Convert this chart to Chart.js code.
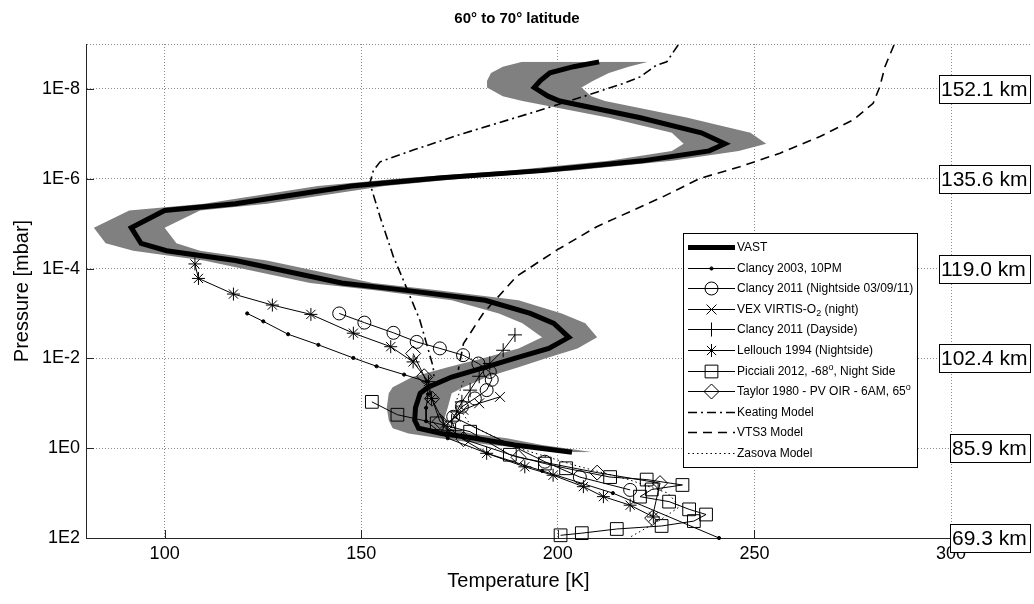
<!DOCTYPE html>
<html><head><meta charset="utf-8">
<script src="https://cdn.jsdelivr.net/npm/chart.js@4.4.1/dist/chart.umd.min.js"></script>
<style>html,body{margin:0;padding:0;background:#fff;}</style>
</head><body>
<canvas id="c" width="1034" height="604"></canvas>
<script>
const FONT = "'Liberation Sans', Arial, Helvetica, sans-serif";

// ---------- axis ticks ----------
const xTickValues = [100, 150, 200, 250, 300];
const yTickValues = [1e-9, 1e-8, 1e-6, 1e-4, 1e-2, 1, 100];
const yTickLabels = ['', '1E-8', '1E-6', '1E-4', '1E-2', '1E0', '1E2'];
const altitudeLabels = ['152.1 km', '135.6 km', '119.0 km', '102.4 km', '85.9 km', '69.3 km'];
const altitudePressures = [1e-8, 1e-6, 1e-4, 1e-2, 1, 100];

// ---------- VAST mean profile and its spread ----------
const vastP = [2.5e-9, 3.2e-9, 4.4e-9, 6.6e-9, 9.3e-9, 1.45e-8, 1.86e-8, 4.4e-8, 9.5e-8, 1.66e-7, 2.4e-7, 4.0e-7, 6.6e-7, 9.5e-7, 1.45e-6, 3.6e-6, 5.1e-6, 1.23e-5, 2.75e-5, 4.0e-5, 6.6e-5, 2.1e-4, 3.1e-4, 5.1e-4, 1.0e-3, 1.66e-3, 3.4e-3, 6.0e-3, 1.0e-2, 1.58e-2, 2.6e-2, 4.4e-2, 6.0e-2, 0.126, 0.24, 0.36, 0.47, 0.60, 0.85, 1.23];
const vastT = [210.5, 204, 198, 195.5, 194, 197.5, 200.5, 221, 236.5, 242.5, 238.5, 221.5, 196, 170.5, 147.5, 118, 100, 91.5, 94, 100.5, 118, 145, 162, 181.5, 193, 199, 202.8, 197.7, 189, 181.4, 173, 167, 165, 163.8, 163.6, 164.6, 170.5, 178.9, 189, 203.6];
const vastMinT = [191, 186, 183, 182, 182, 186, 191, 213, 229, 232, 229, 213, 188, 162, 139, 110, 91, 82, 85, 92, 110, 137, 154, 173, 185, 191, 196, 190, 181, 172, 163, 158, 157, 156.5, 157, 158, 162, 170, 183, 202];
const vastMaxT = [223, 218, 213, 209, 206, 208.5, 212, 233, 249, 253, 246, 229, 204, 178, 156, 126, 109, 100, 103, 109, 126, 153, 170, 190, 201, 207, 210, 205, 197, 190, 182, 176, 173, 172, 171, 172, 178, 187, 196, 209];

// ---------- observations ----------
const clancy2003P = [1.0e-3, 1.5e-3, 2.9e-3, 5.0e-3, 9.8e-3, 1.5e-2, 2.3e-2, 3.3e-2, 6.3e-2, 0.126, 0.25, 0.6, 1.3, 3.2, 10, 100];
const clancy2003T = [121.0, 125.1, 131.4, 139.1, 148, 153.9, 160.9, 166.6, 167, 166.5, 166.5, 172, 182, 196, 214, 241];

const clancyNightP = [1.0e-3, 1.6e-3, 2.7e-3, 4.3e-3, 6.0e-3, 8.5e-3, 1.3e-2, 2.0e-2, 3.0e-2, 5.1e-2, 7.8e-2, 0.12, 0.2, 2.0, 4.4, 8.5];
const clancyNightT = [144.4, 150.8, 158.2, 164.1, 170, 175.9, 179.8, 182.7, 183.2, 181.9, 178.9, 175.6, 173.4, 196.7, 205.6, 218.4];

const vexP = [7.2e-2, 0.1, 0.14, 0.2, 0.28];
const vexT = [185.3, 180, 176, 174, 172];

const clancyDayP = [3.0e-3, 6.6e-3, 1.3e-2, 2.5e-2, 5.1e-2, 9.3e-2, 0.155, 0.25, 0.4];
const clancyDayT = [189.1, 186.1, 182.7, 180, 177.7, 175.6, 174.3, 173, 174];

const lellouchP = [7.9e-5, 1.66e-4, 3.7e-4, 6.5e-4, 1.05e-3, 2.75e-3, 5.5e-3, 1.2e-2, 3.3e-2, 7.8e-2, 0.4, 1.3, 2.6, 4.0, 7.2, 12, 18.6, 34];
const lellouchT = [107.7, 108.6, 117.5, 127.4, 137.2, 148, 157.5, 163.2, 167.1, 167.9, 172, 181.9, 191.6, 198.8, 206.5, 211.6, 218.4, 224.3];

const piccialiP = [9.3e-2, 0.18, 0.28, 0.43, 1.4, 2.2, 2.8, 4.4, 5.0, 6.6, 8.3, 12, 15.5, 23, 30, 42, 54, 63, 78, 87];
const piccialiT = [152.7, 159.2, 169.2, 177.7, 187.8, 196.7, 202.1, 213.3, 222.6, 231.7, 223.9, 220.9, 228.3, 233.4, 237.7, 234.6, 226.4, 215, 206.1, 200.7];

const taylorP = [7.8e-3, 2.5e-2, 7.9e-2, 0.25, 0.63, 1.6, 3.5, 6.0, 36];
const taylorT = [163.2, 166, 168, 170, 176, 190, 210, 226, 224];

const keatingP = [1.05e-9, 2.5e-9, 2.95e-9, 5.4e-9, 7.6e-9, 1.48e-8, 3.5e-8, 9.8e-8, 2.3e-7, 4.2e-7, 6.5e-7, 1.26e-6, 7.1e-6, 5.5e-5, 1.8e-4, 1.4e-3, 1.55e-2, 2.5e-2];
const keatingT = [230.6, 227.7, 225.1, 220.9, 216.6, 206.5, 192.9, 176, 163.2, 154.8, 153.1, 152.2, 154.8, 158.2, 160.7, 164.9, 168.3, 168.5];

const vts3P = [1.05e-9, 3.2e-9, 8.9e-9, 2.1e-8, 4.9e-8, 1.15e-7, 2.7e-7, 5.4e-7, 9.8e-7, 2.5e-6, 1.17e-5, 3.9e-5, 1.5e-4, 1.0e-3, 4.7e-3, 1.8e-2];
const vts3T = [285.5, 283.2, 281.9, 280.2, 275.1, 266.7, 256.5, 246.3, 236.2, 226.8, 209.9, 199.7, 189.5, 181, 176, 174.7];

const zasovaP = [3.2e-2, 0.1, 0.32, 1.0, 2.5, 5.0, 10, 20, 40, 100];
const zasovaT = [176, 174, 178, 190, 205, 218, 228, 231, 226, 218];

// ---------- helpers ----------
const pts = (T, P) => T.map((t, i) => ({x: t, y: P[i]}));

const seriesDefs = [
  {label: 'VAST', T: vastT, P: vastP, width: 5, dash: [], style: false},
  {label: 'Clancy 2003, 10PM', T: clancy2003T, P: clancy2003P, width: 1, dash: [], style: 'circle', r: 1.6, fill: '#000'},
  {label: 'Clancy 2011 (Nightside 03/09/11)', T: clancyNightT, P: clancyNightP, width: 1, dash: [], style: 'circle', r: 6.5},
  {label: 'VEX VIRTIS-O2 (night)', T: vexT, P: vexP, width: 1, dash: [], style: 'crossRot', r: 7},
  {label: 'Clancy 2011 (Dayside)', T: clancyDayT, P: clancyDayP, width: 1, dash: [], style: 'cross', r: 7},
  {label: 'Lellouch 1994 (Nightside)', T: lellouchT, P: lellouchP, width: 1, dash: [], style: 'star', r: 6.5},
  {label: 'Picciali 2012, -68o, Night Side', T: piccialiT, P: piccialiP, width: 1, dash: [], style: 'rect', r: 9},
  {label: 'Taylor 1980 - PV OIR - 6AM, 65o', T: taylorT, P: taylorP, width: 1, dash: [], style: 'rectRot', r: 7.5},
  {label: 'Keating Model', T: keatingT, P: keatingP, width: 1.6, dash: [9, 4, 2, 4], style: false},
  {label: 'VTS3 Model', T: vts3T, P: vts3P, width: 1.6, dash: [9, 6], style: false},
  {label: 'Zasova Model', T: zasovaT, P: zasovaP, width: 1, dash: [1.5, 3], style: false}
];

const datasets = [];
// spread band: lower bound then upper bound, filled between (vertical profiles)
datasets.push({label: 'band-min', data: pts(vastMinT, vastP), indexAxis: 'y', borderWidth: 0, pointRadius: 0,
  backgroundColor: '#808080', borderColor: 'rgba(0,0,0,0)', fill: '+1', order: 100});
datasets.push({label: 'band-max', data: pts(vastMaxT, vastP), indexAxis: 'y', borderWidth: 0, pointRadius: 0,
  borderColor: 'rgba(0,0,0,0)', fill: false, order: 99});
seriesDefs.forEach((s, i) => {
  datasets.push({
    label: s.label, data: pts(s.T, s.P), borderColor: '#000', borderWidth: s.width, borderDash: s.dash,
    pointStyle: s.style || 'circle', pointRadius: s.style ? s.r : 0, pointBorderWidth: 1,
    pointBorderColor: '#000', pointBackgroundColor: s.fill || 'rgba(0,0,0,0)', pointHoverRadius: s.style ? s.r : 0,
    fill: false, tension: 0, order: i === 0 ? 50 : 1, clip: false
  });
});

// ---------- decorations plugin (inward ticks, altitude boxes, legend) ----------
const deco = {
  id: 'deco',
  afterDraw(chart) {
    const {ctx, chartArea: a, scales: {x, y}} = chart;
    ctx.save();
    // inward tick marks
    ctx.strokeStyle = '#262626'; ctx.lineWidth = 1; ctx.setLineDash([]);
    xTickValues.forEach(v => { const px = Math.round(x.getPixelForValue(v)) + 0.5;
      ctx.beginPath(); ctx.moveTo(px, a.bottom); ctx.lineTo(px, a.bottom - 8); ctx.stroke(); });
    yTickValues.slice(1).forEach(v => { const py = Math.round(y.getPixelForValue(v)) + 0.5;
      ctx.beginPath(); ctx.moveTo(a.left, py); ctx.lineTo(a.left + 8, py); ctx.stroke(); });
    // top dotted line continues to the right axis
    ctx.strokeStyle = '#8c8c8c'; ctx.setLineDash([1, 2]);
    ctx.beginPath(); ctx.moveTo(a.right, a.top + 0.5); ctx.lineTo(1030, a.top + 0.5); ctx.stroke();
    ctx.setLineDash([]);
    // altitude boxes
    ctx.font = '21px ' + FONT; ctx.textBaseline = 'middle';
    altitudeLabels.forEach((lab, i) => {
      const py = Math.round(y.getPixelForValue(altitudePressures[i]));
      const left = i >= 4 ? 950 : 939;
      const w = 1030 - left, h = 28;
      ctx.fillStyle = '#fff'; ctx.fillRect(left, py - h / 2, w, h);
      ctx.strokeStyle = '#000'; ctx.lineWidth = 1;
      ctx.strokeRect(left + 0.5, py - h / 2 + 0.5, w, h);
      ctx.fillStyle = '#000'; ctx.textAlign = 'left';
      ctx.fillText(lab, left + 2, py + 1);
    });
    // legend
    const L = {x0: 683, y0: 233, x1: 917, y1: 467};
    ctx.fillStyle = '#fff'; ctx.fillRect(L.x0, L.y0, L.x1 - L.x0, L.y1 - L.y0);
    ctx.strokeStyle = '#000'; ctx.lineWidth = 1;
    ctx.strokeRect(L.x0 + 0.5, L.y0 + 0.5, L.x1 - L.x0, L.y1 - L.y0);
    const rowH = (L.y1 - L.y0 - 8) / 11;
    ctx.textBaseline = 'middle';
    seriesDefs.forEach((s, i) => {
      const cy = Math.round(L.y0 + 4 + rowH * (i + 0.5)) + 0.5;
      const sx0 = 688, sx1 = 735, mx = 711.5;
      ctx.strokeStyle = '#000'; ctx.lineWidth = s.width; ctx.setLineDash(s.dash);
      ctx.beginPath(); ctx.moveTo(sx0, cy); ctx.lineTo(sx1, cy); ctx.stroke();
      ctx.setLineDash([]);
      if (s.style) {
        ctx.lineWidth = 1;
        ctx.fillStyle = s.fill || '#fff';
        Chart.helpers.drawPoint(ctx, {pointStyle: s.style, radius: s.r, borderWidth: 1, rotation: 0}, mx, cy);
        if (!s.fill && (s.style === 'circle' || s.style === 'rect' || s.style === 'rectRot')) {
          // hollow markers: redraw the sample line through them
          ctx.beginPath(); ctx.moveTo(sx0, cy); ctx.lineTo(sx1, cy); ctx.stroke();
        }
      }
      ctx.fillStyle = '#000'; ctx.textAlign = 'left';
      const tx = 737;
      const parts = s.label === 'VEX VIRTIS-O2 (night)' ? [['VEX VIRTIS-O', 0], ['2', 1], [' (night)', 0]]
        : s.label.endsWith('65o') ? [['Taylor 1980 - PV OIR - 6AM, 65', 0], ['o', -1]]
        : s.label.startsWith('Picciali') ? [['Picciali 2012, -68', 0], ['o', -1], [', Night Side', 0]]
        : [[s.label, 0]];
      let cx = tx;
      parts.forEach(([t, m]) => {
        ctx.font = (m ? '9px ' : '12px ') + FONT;
        ctx.fillText(t, cx, cy + (m === 1 ? 4 : m === -1 ? -4 : 0));
        cx += ctx.measureText(t).width;
      });
    });
    ctx.restore();
  }
};

Chart.defaults.font.family = FONT;
new Chart(document.getElementById('c'), {
  type: 'line',
  data: {datasets},
  plugins: [deco],
  options: {
    responsive: false, animation: false, devicePixelRatio: 1,
    layout: {padding: 0},
    plugins: {
      legend: {display: false}, tooltip: {enabled: false},
      title: {display: true, text: '60° to 70° latitude', color: '#000',
        font: {family: FONT, size: 15, weight: 'bold'}, padding: {top: 9.5, bottom: 16.5}}
    },
    scales: {
      x: {
        type: 'linear', min: 80, max: 300, position: 'bottom',
        afterBuildTicks: s => { s.ticks = xTickValues.map(v => ({value: v})); },
        afterFit: s => { s.height = 66; },
        grid: {color: '#8c8c8c', lineWidth: 1, drawTicks: false},
        border: {display: true, color: '#262626', width: 1, dash: [1, 2]},
        ticks: {color: '#000', font: {family: FONT, size: 18}, padding: 5, maxRotation: 0},
        title: {display: true, text: 'Temperature [K]', color: '#000', font: {family: FONT, size: 20}, padding: {top: 0, bottom: 11}}
      },
      y: {
        type: 'logarithmic', min: 1e-9, max: 100, reverse: true, position: 'left',
        afterBuildTicks: s => { s.ticks = yTickValues.map(v => ({value: v})); },
        afterFit: s => { s.width = 86; },
        grid: {color: '#8c8c8c', lineWidth: 1, drawTicks: false},
        border: {display: true, color: '#262626', width: 1, dash: [1, 2]},
        ticks: {color: '#000', font: {family: FONT, size: 18}, padding: 6, autoSkip: false,
          callback: v => { const i = yTickValues.indexOf(v); return i >= 0 ? yTickLabels[i] : ''; }},
        title: {display: true, text: 'Pressure [mbar]', color: '#000', font: {family: FONT, size: 20}, padding: {top: 10, bottom: 0}}
      },
      yRight: {
        type: 'linear', position: 'right', display: true,
        grid: {display: false, drawTicks: false}, border: {display: false}, ticks: {display: false},
        afterFit: s => { s.width = 83; }
      }
    }
  }
});
</script>
</body></html>
